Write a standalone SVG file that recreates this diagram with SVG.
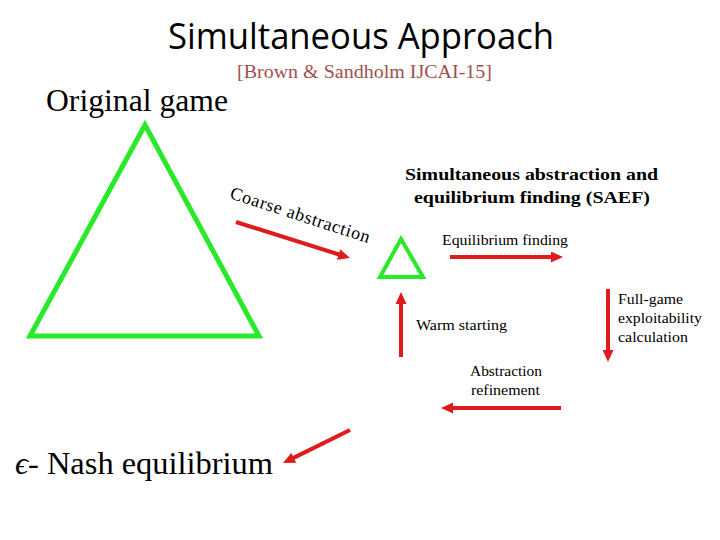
<svg xmlns="http://www.w3.org/2000/svg" width="720" height="540" viewBox="0 0 720 540">
<style>
.serif{font-family:"Liberation Serif","Times New Roman",serif;fill:#000}
.small{font-size:14.5px}
.bold{font-size:17.5px;font-weight:bold}
.tri{fill:none;stroke:#2ae82a;stroke-linejoin:miter}
.arr{stroke:#e01b1b;stroke-width:4;fill:none}
</style>
<defs>
<marker id="ah" markerUnits="userSpaceOnUse" markerWidth="12" markerHeight="11" refX="2" refY="5.5" orient="auto">
<path d="M0,0 L12,5.5 L0,11 z" fill="#e01b1b"/>
</marker>
</defs>
<rect width="720" height="540" fill="#fff"/>
<g id="title">
<text x="168" y="49" font-family="'Open Sans','Liberation Sans',sans-serif" font-size="37" textLength="386" lengthAdjust="spacingAndGlyphs">Simultaneous Approach</text>
</g>
<g id="citation">
<text class="serif" x="237" y="78" font-size="18.5" style="fill:#a0504e" textLength="255" lengthAdjust="spacingAndGlyphs">[Brown &amp; Sandholm IJCAI-15]</text>
</g>
<g id="original-game">
<text class="serif" x="46" y="111" font-size="32" textLength="182" lengthAdjust="spacingAndGlyphs">Original game</text>
<polygon class="tri" stroke-width="5" points="145,125 30,336 259,336"/>
</g>
<g id="abstract-game">
<polygon class="tri" stroke-width="4" points="401,239 380,277 423,277"/>
</g>
<g id="saef-label">
<text class="serif bold" x="405" y="180" textLength="253" lengthAdjust="spacingAndGlyphs">Simultaneous abstraction and</text>
<text class="serif bold" x="414" y="203" textLength="236" lengthAdjust="spacingAndGlyphs">equilibrium finding (SAEF)</text>
</g>
<g id="nash">
<text class="serif" x="15" y="474" font-size="32" textLength="258" lengthAdjust="spacingAndGlyphs"><tspan font-style="italic">ϵ</tspan>- Nash equilibrium</text>
</g>
<g id="connectors">
<line class="arr" x1="236" y1="222" x2="340.5" y2="255" marker-end="url(#ah)"/>
<text class="serif" font-size="18" transform="translate(229,198) rotate(18)" textLength="146" lengthAdjust="spacing">Coarse abstraction</text>
<line class="arr" x1="450" y1="257" x2="553" y2="257" marker-end="url(#ah)"/>
<text class="serif small" x="442" y="245" textLength="126" lengthAdjust="spacingAndGlyphs">Equilibrium finding</text>
<line class="arr" x1="401" y1="357" x2="401" y2="302" marker-end="url(#ah)"/>
<text class="serif small" x="416" y="330" textLength="91" lengthAdjust="spacingAndGlyphs">Warm starting</text>
<line class="arr" x1="608" y1="289" x2="608" y2="352" marker-end="url(#ah)"/>
<text class="serif small" x="618" y="304" textLength="65" lengthAdjust="spacingAndGlyphs">Full-game</text>
<text class="serif small" x="618" y="323" textLength="84" lengthAdjust="spacingAndGlyphs">exploitability</text>
<text class="serif small" x="618" y="342" textLength="70" lengthAdjust="spacingAndGlyphs">calculation</text>
<line class="arr" x1="561" y1="408" x2="451" y2="408" marker-end="url(#ah)"/>
<text class="serif small" x="470" y="376" textLength="72" lengthAdjust="spacingAndGlyphs">Abstraction</text>
<text class="serif small" x="471" y="395" textLength="69" lengthAdjust="spacingAndGlyphs">refinement</text>
<line class="arr" x1="350" y1="430" x2="292" y2="458.6" marker-end="url(#ah)"/>
</g>
</svg>
